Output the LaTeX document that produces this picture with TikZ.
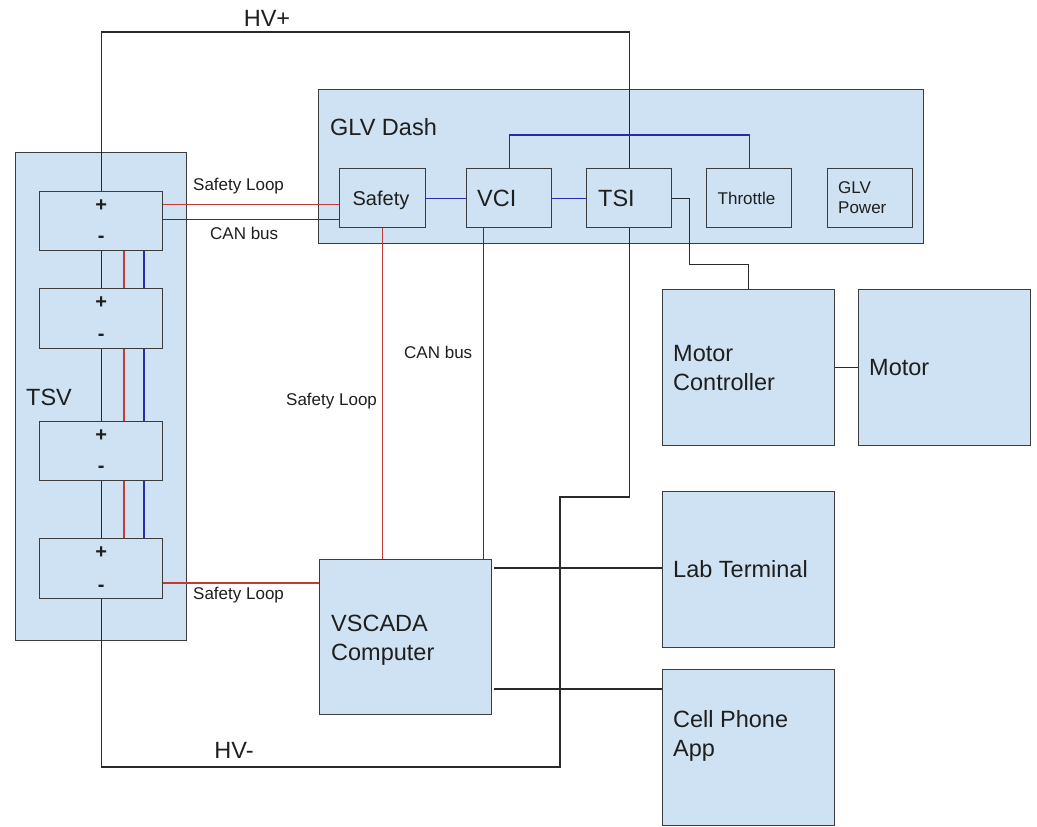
\documentclass[tikz,border=0pt]{standalone}
\usepackage{fontspec}
\setmainfont{Liberation Sans}
\usetikzlibrary{calc}
\definecolor{boxfill}{HTML}{CFE2F3}
\definecolor{boxline}{HTML}{3C3C3C}
\definecolor{wire}{HTML}{2A2A2A}
\definecolor{sl}{HTML}{C23B3B}
\definecolor{can}{HTML}{2A2AAA}
\definecolor{txt}{HTML}{1E1E1E}
\begin{document}
\begin{tikzpicture}[x=1pt,y=-1pt,
  box/.style={draw=boxline, fill=boxfill, line width=1.4pt, inner sep=0pt, anchor=north west},
  wirew/.style={draw=wire, line width=1.3pt},
  slw/.style={draw=sl, line width=1.3pt},
  canw/.style={draw=can, line width=1.3pt},
  big/.style={font=\fontsize{23.5}{29}\selectfont, inner sep=0pt, text=txt},
  mid/.style={font=\fontsize{20}{24}\selectfont, inner sep=0pt, text=txt},
  small/.style={font=\fontsize{17}{20}\selectfont, inner sep=0pt, text=txt},
  sign/.style={font=\fontsize{20}{22}\selectfont\bfseries, inner sep=0pt, text=txt}]
\useasboundingbox (0,0) rectangle (1037,827);

% containers
\node[box, minimum width=171pt, minimum height=488pt] (tsv) at (15,152) {};
\node[box, minimum width=605pt, minimum height=154pt] (glv) at (318,89) {};

% battery modules
\node[box, minimum width=123pt, minimum height=59pt] (m1) at (39,191) {};
\node[box, minimum width=123pt, minimum height=60pt] (m2) at (39,288) {};
\node[box, minimum width=123pt, minimum height=59pt] (m3) at (39,421) {};
\node[box, minimum width=123pt, minimum height=60pt] (m4) at (39,538) {};

% GLV dash sub-boxes
\node[box, minimum width=86pt, minimum height=59pt] (safety) at (339,168) {};
\node[box, minimum width=85pt, minimum height=59pt] (vci) at (466,168) {};
\node[box, minimum width=85pt, minimum height=59pt] (tsi) at (586,168) {};
\node[box, minimum width=85pt, minimum height=59pt] (throttle) at (706,168) {};
\node[box, minimum width=85pt, minimum height=59pt] (glvp) at (827,168) {};

% other boxes
\node[box, minimum width=172pt, minimum height=155pt] (vscada) at (319,559) {};
\node[box, minimum width=172pt, minimum height=156pt] (mc) at (662,289) {};
\node[box, minimum width=172pt, minimum height=156pt] (motor) at (858,289) {};
\node[box, minimum width=172pt, minimum height=156pt] (lab) at (662,491) {};
\node[box, minimum width=172pt, minimum height=156pt] (cell) at (662,669) {};

% helper coordinates
\coordinate (hvy) at (0,32);
\coordinate (jog) at (560,497);
\coordinate (hvm) at (0,767);
\coordinate (rx) at (124,0);
\coordinate (bx) at (144,0);

% HV+ and HV-
\draw[wirew] (m1.north) |- (hvy -| tsi.north) -- (tsi.north);
\draw[wirew] (tsi.south) |- (jog) -- (jog |- hvm) -| (m4.south);

% series connections in TSV
\draw[wirew] (m1.south) -- (m2.north);
\draw[wirew] (m2.south) -- (m3.north);
\draw[wirew] (m3.south) -- (m4.north);
\draw[slw] (m1.south -| rx) -- (m2.north -| rx);
\draw[slw] (m2.south -| rx) -- (m3.north -| rx);
\draw[slw] (m3.south -| rx) -- (m4.north -| rx);
\draw[canw] (m1.south -| bx) -- (m2.north -| bx);
\draw[canw] (m2.south -| bx) -- (m3.north -| bx);
\draw[canw] (m3.south -| bx) -- (m4.north -| bx);

% TSV to Safety
\coordinate (sl1) at ([yshift=16.5pt]m1.east);
\coordinate (cb1) at ([yshift=1.5pt]m1.east);
\draw[slw] (sl1) -- (sl1 -| safety.west);
\draw[canw] (cb1) -- (cb1 -| safety.west);

% GLV dash internal
\draw[canw] (safety.east) -- (vci.west);
\draw[canw] (vci.east) -- (tsi.west);
\draw[canw] (vci.north) -- ++(0,-33) -| (throttle.north);
\draw[wirew] (tsi.east) -- ++(17,0) -- ++(0,66.5) -| (mc.north);

% down to VSCADA
\draw[slw] (safety.south) -- (safety.south |- vscada.north);
\coordinate (vb) at ([xshift=-25.5pt]vci.south);
\draw[canw] (vb) -- (vb |- vscada.north);
\coordinate (sl4) at ([yshift=-45pt]m4.north east);
\draw[slw] (sl4) -- (sl4 -| vscada.west);

% VSCADA to terminals
\coordinate (vl) at ([xshift=2pt,yshift=-9pt]vscada.north east);
\draw[wirew] (vl) -- (vl -| lab.west);
\coordinate (vc) at ([xshift=2pt,yshift=-130pt]vscada.north east);
\draw[wirew] (vc) -- (vc -| cell.west);
\draw[wirew] (mc.east) -- (motor.west);

% module signs
\node[sign] (p1) at ([yshift=-15pt]m1.north) {+};
\node[sign] (n1) at ([yshift=-48pt]m1.north) {-};
\node[sign] (p2) at ([yshift=-15pt]m2.north) {+};
\node[sign] (n2) at ([yshift=-49pt]m2.north) {-};
\node[sign] (p3) at ([yshift=-15pt]m3.north) {+};
\node[sign] (n3) at ([yshift=-48pt]m3.north) {-};
\node[sign] (p4) at ([yshift=-15pt]m4.north) {+};
\node[sign] (n4) at ([yshift=-50pt]m4.north) {-};

% labels
\node[big] (hvplus) at (267,18) {HV+};
\node[big] (hvminus) at (234,750) {HV-};
\node[big, anchor=west] (tsvl) at (26,397) {TSV};
\node[big, anchor=west] (glvl) at (330,127) {GLV Dash};
\node[mid] (safl) at (381,200) {Safety};
\node[big, anchor=west] (vcil) at (477,198) {VCI};
\node[big, anchor=west] (tsil) at (598,198) {TSI};
\node[small] (thrl) at (746.5,198) {Throttle};
\node[small, align=left, anchor=west] (glvpl) at (838,198) {GLV\\Power};
\node[big, align=left, anchor=west] (vscadal) at (331,640) {VSCADA\\Computer};
\node[big, align=left, anchor=west] (mcl) at (673,368) {Motor\\Controller};
\node[big, anchor=west] (motorl) at (869,368) {Motor};
\node[big, anchor=west] (labl) at (673,569) {Lab Terminal};
\node[big, align=left, anchor=west] (celll) at (673,736) {Cell Phone\\App};

\node[small, anchor=west] (lsl1) at (193,186) {Safety Loop};
\node[small, anchor=west] (lcb1) at (210,233) {CAN bus};
\node[small, anchor=west] (lcb2) at (404,352) {CAN bus};
\node[small, anchor=west] (lsl2) at (286,401) {Safety Loop};
\node[small, anchor=west] (lsl3) at (193,595) {Safety Loop};
\end{tikzpicture}
\end{document}
